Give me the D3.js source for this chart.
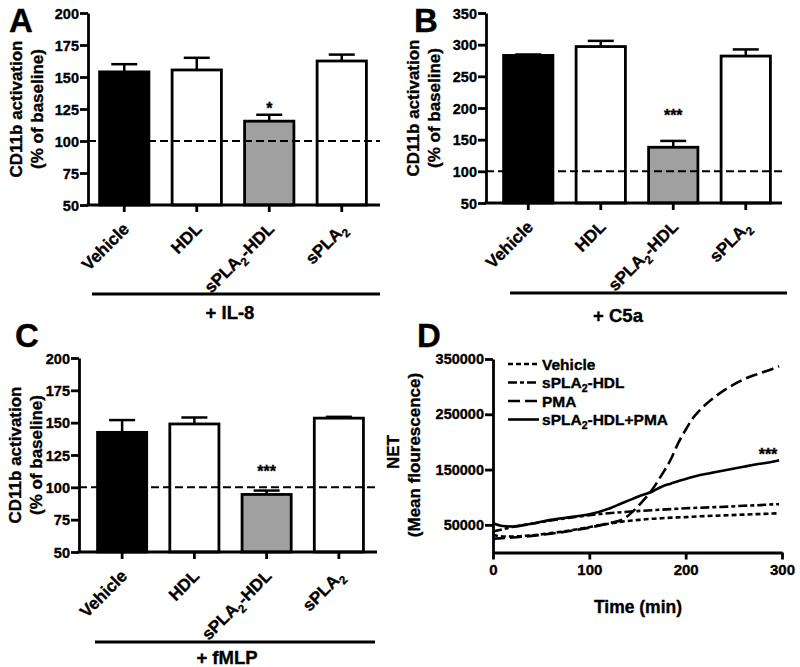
<!DOCTYPE html>
<html><head><meta charset="utf-8">
<script src="https://cdn.jsdelivr.net/npm/d3@7"></script>
<style>
body{margin:0;background:#fff}
text{font-family:"Liberation Sans",Arial,sans-serif;font-weight:bold;fill:#000;stroke:#000;stroke-width:0.35px}
</style>
</head><body>
<svg id="c" width="800" height="667"></svg>
<script>
// ---------- data ----------
const categories = ["Vehicle", "HDL", "sPLA2-HDL", "sPLA2"];
const barFills = ["#000000", "#ffffff", "#a0a0a0", "#ffffff"];

const il8Means = [154, 155.5, 115.5, 162.5];
const il8Sem = [6, 9.5, 5, 5];
const il8Stars = ["", "", "*", ""];

const c5aMeans = [283, 297, 138, 282];
const c5aSem = [1.5, 9, 10, 10.5];
const c5aStars = ["", "", "***", ""];

const fmlpMeans = [142.5, 149, 94.5, 153.5];
const fmlpSem = [9.5, 5, 3, 1];
const fmlpStars = ["", "", "***", ""];

const ticks200 = [50, 75, 100, 125, 150, 175, 200];
const ticks350 = [50, 100, 150, 200, 250, 300, 350];
const baselineValue = 100;

const netTime = [0, 10, 20, 40, 60, 80, 100, 120, 135, 145, 155, 165, 175, 185, 192, 200, 207, 215, 230, 245, 260, 275, 290, 297];
const netVehicle = [32000, 29000, 29000, 31000, 35000, 40000, 46000, 52000, 56000, 58000, 59500, 61000, 62000, 63000, 63500, 64000, 64800, 65500, 66500, 67500, 68500, 69500, 70500, 71000];
const netSplaHdl = [38000, 42000, 46000, 52000, 58000, 63000, 67500, 71000, 73000, 74500, 75500, 76500, 77500, 78500, 79200, 80000, 80500, 81000, 82000, 83000, 84500, 85500, 87000, 87500];
const netPma = [25000, 26000, 27000, 30000, 34000, 39000, 45000, 53000, 60000, 74000, 92000, 113000, 140000, 170000, 197000, 222000, 242000, 258000, 281000, 299000, 313000, 323000, 332000, 337000];
const netSplaHdlPma = [53000, 48000, 47000, 52000, 59000, 64000, 69000, 79000, 90000, 97000, 104000, 110000, 119000, 125000, 129000, 133000, 136500, 140000, 145000, 150000, 155000, 160000, 164000, 167000];
const netSeriesNames = ["Vehicle", "sPLA2-HDL", "PMA", "sPLA2-HDL+PMA"];
const netDash = ["5,3", "9,3,4,3", "12,5", null];
const netYTicks = [50000, 150000, 250000, 350000];
const netXTicks = [0, 100, 200, 300];

// ---------- helpers ----------
const svg = d3.select("#c");
const AX = 2.8;

function richText(t, str, fs) {
  const segs = str.split("PLA2");
  segs.forEach((s, i) => {
    if (i > 0) {
      t.append("tspan").text("PLA");
      t.append("tspan").attr("font-size", fs * 0.68).attr("dy", fs * 0.28).text("2");
      t.append("tspan").attr("dy", -fs * 0.28).text(s);
    } else if (s.length) {
      t.append("tspan").text(s);
    }
  });
}

function styleAxis(g) {
  g.selectAll("path,line").attr("stroke", "#000").attr("stroke-width", AX);
  g.selectAll("text").attr("font-size", 14.5).attr("font-family", "Liberation Sans, Arial, sans-serif").attr("font-weight", "bold");
}

function barPanel(o) {
  const g = svg.append("g");
  const y = d3.scaleLinear().domain(o.domain).range([o.yBottom, o.yTop]);
  const x = d3.scaleBand().domain(categories).range([o.bandL, o.bandR]).paddingInner(0.32).paddingOuter(0.16);
  const bw = x.bandwidth();

  g.selectAll("rect.bar").data(categories).join("rect")
    .attr("x", d => x(d)).attr("width", bw)
    .attr("y", (d, i) => y(o.means[i]))
    .attr("height", (d, i) => o.yBottom - y(o.means[i]))
    .attr("fill", (d, i) => barFills[i])
    .attr("stroke", "#000").attr("stroke-width", 2.8);

  categories.forEach((c, i) => {
    const cx = x(c) + bw / 2;
    const yt = y(o.means[i] + o.sem[i]);
    g.append("line").attr("x1", cx).attr("x2", cx).attr("y1", y(o.means[i])).attr("y2", yt).attr("stroke", "#000").attr("stroke-width", 2.5);
    g.append("line").attr("x1", cx - 13).attr("x2", cx + 13).attr("y1", yt).attr("y2", yt).attr("stroke", "#000").attr("stroke-width", 2.5);
    if (o.stars[i]) {
      g.append("text").attr("x", cx).attr("y", yt - o.starGap).attr("text-anchor", "middle")
        .attr("font-size", 16).attr("fill", "#333").attr("stroke", "none").text(o.stars[i]);
    }
  });

  g.append("line").attr("x1", o.axisX).attr("x2", o.xEnd).attr("y1", y(baselineValue)).attr("y2", y(baselineValue))
    .attr("stroke", "#000").attr("stroke-width", 2).attr("stroke-dasharray", "8,4");

  const ya = g.append("g").attr("transform", `translate(${o.axisX},0)`)
    .call(d3.axisLeft(y).tickValues(o.ticks).tickSize(8).tickSizeOuter(0).tickPadding(1));
  styleAxis(ya);
  ya.selectAll(".tick text").attr("dy", "0.36em");

  const xa = g.append("g").attr("transform", `translate(0,${o.yBottom})`)
    .call(d3.axisBottom(x).tickSize(7).tickFormat(""));
  xa.select(".domain").remove();
  styleAxis(xa);
  g.append("line").attr("x1", o.axisX - 1.4).attr("x2", o.xEnd).attr("y1", o.yBottom).attr("y2", o.yBottom)
    .attr("stroke", "#000").attr("stroke-width", AX);

  categories.forEach(c => {
    const t = g.append("text").attr("text-anchor", "end").attr("font-size", 17)
      .attr("transform", `translate(${x(c) + bw / 2 + 6},${o.yBottom + 25}) rotate(-45)`);
    richText(t, c, 17);
  });

  const cy = (o.yTop + o.yBottom) / 2;
  [["CD11b activation", o.t1x], ["(% of baseline)", o.t2x]].forEach(([s, tx]) => {
    g.append("text").attr("text-anchor", "middle").attr("font-size", 17)
      .attr("transform", `translate(${tx},${cy}) rotate(-90)`).text(s);
  });

  g.append("line").attr("x1", o.gx1).attr("x2", o.gx2).attr("y1", o.gy).attr("y2", o.gy).attr("stroke", "#000").attr("stroke-width", 2.8);
  g.append("text").attr("x", o.glx).attr("y", o.gly).attr("text-anchor", "middle").attr("font-size", 18.5).text(o.group);

  g.append("text").attr("x", o.lx).attr("y", o.ly).attr("font-size", 33).attr("stroke", "#000").attr("stroke-width", 1).text(o.letter);
}

barPanel({
  letter: "A", lx: 9, ly: 32, means: il8Means, sem: il8Sem, stars: il8Stars, starGap: 1,
  domain: [50, 200], ticks: ticks200, yTop: 13, yBottom: 205, axisX: 88, xEnd: 380, bandL: 88, bandR: 378,
  t1x: 22, t2x: 43, group: "+ IL-8", gx1: 92, gx2: 380, gy: 294, glx: 230, gly: 319
});
barPanel({
  letter: "B", lx: 414, ly: 32, means: c5aMeans, sem: c5aSem, stars: c5aStars, starGap: 20,
  domain: [50, 350], ticks: ticks350, yTop: 13, yBottom: 203, axisX: 486, xEnd: 782, bandL: 492, bandR: 782,
  t1x: 419, t2x: 440, group: "+ C5a", gx1: 510, gx2: 787, gy: 293, glx: 618, gly: 322
});
barPanel({
  letter: "C", lx: 15, ly: 347, means: fmlpMeans, sem: fmlpSem, stars: fmlpStars, starGap: 14,
  domain: [50, 200], ticks: ticks200, yTop: 358, yBottom: 552, axisX: 79, xEnd: 377, bandL: 86, bandR: 375,
  t1x: 21, t2x: 42, group: "+ fMLP", gx1: 95, gx2: 375, gy: 642, glx: 227, gly: 664
});

// ---------- panel D ----------
(function () {
  const g = svg.append("g");
  const x = d3.scaleLinear().domain([0, 300]).range([493, 782]);
  const y = d3.scaleLinear().domain([0, 350000]).range([552.5, 359]);
  const series = [netVehicle, netSplaHdl, netPma, netSplaHdlPma];
  const line = d3.line().x((d, i) => x(netTime[i])).y(d => y(d)).curve(d3.curveMonotoneX);
  series.forEach((s, k) => {
    g.append("path").attr("d", line(s)).attr("fill", "none").attr("stroke", "#000")
      .attr("stroke-width", 2.6).attr("stroke-dasharray", netDash[k]);
  });

  const ya = g.append("g").attr("transform", "translate(493,0)")
    .call(d3.axisLeft(y).tickValues(netYTicks).tickSize(8).tickSizeOuter(0).tickPadding(1).tickFormat(d3.format("d")));
  styleAxis(ya);
  const xa = g.append("g").attr("transform", "translate(0,552.5)")
    .call(d3.axisBottom(x).tickValues(netXTicks).tickSize(7).tickSizeOuter(0).tickPadding(5));
  styleAxis(xa);
  xa.selectAll("text").attr("font-size", 15);

  g.append("text").attr("x", 638).attr("y", 613).attr("text-anchor", "middle").attr("font-size", 17.5).text("Time (min)");
  g.append("text").attr("text-anchor", "middle").attr("font-size", 17).attr("transform", "translate(399,452) rotate(-90)").text("NET");
  g.append("text").attr("text-anchor", "middle").attr("font-size", 17).attr("transform", "translate(420,455) rotate(-90)").text("(Mean flourescence)");

  netSeriesNames.forEach((n, k) => {
    const cy = 364 + k * 18.5;
    g.append("line").attr("x1", 508).attr("x2", 539).attr("y1", cy).attr("y2", cy).attr("stroke", "#000")
      .attr("stroke-width", 2.6).attr("stroke-dasharray", netDash[k]);
    const t = g.append("text").attr("x", 542).attr("y", cy + 5.5).attr("font-size", 15.5);
    richText(t, n, 15.5);
  });

  g.append("text").attr("x", 768).attr("y", 460).attr("text-anchor", "middle").attr("font-size", 16).attr("fill", "#333").attr("stroke", "none").text("***");
  g.append("text").attr("x", 417).attr("y", 347).attr("font-size", 33).attr("stroke", "#000").attr("stroke-width", 1).text("D");
})();
</script>
</body></html>
